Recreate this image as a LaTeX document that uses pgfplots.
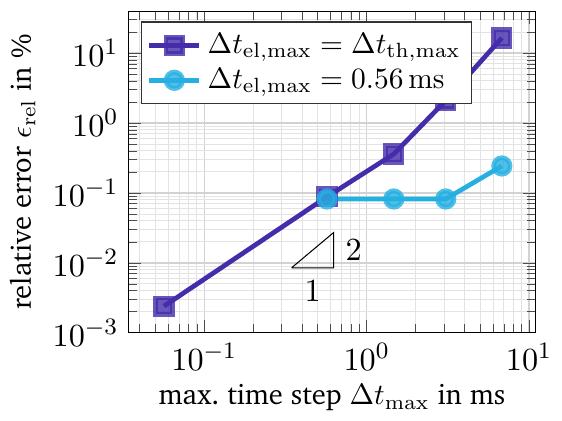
\documentclass[border=0pt]{standalone}
\usepackage[T1]{fontenc}
\usepackage{charter}
\usepackage{pgfplots}
\pgfplotsset{compat=1.18}
\definecolor{cpurple}{RGB}{68,44,170}
\definecolor{ccyan}{RGB}{38,176,226}
\begin{document}
\begin{tikzpicture}
\begin{loglogaxis}[
  name=ax,
  scale only axis,
  width=138pt, height=109pt,
  xmin=0.0343, xmax=10.9,
  ymin=1e-3, ymax=39,
  grid=both,
  major grid style={gray!35, line width=0.45pt},
  minor grid style={gray!22, line width=0.3pt},
  tick style={black!70},
  tick label style={font=\fontsize{10.8}{12}\selectfont},
  xlabel={max.\ time step $\Delta t_{\mathrm{max}}$ in ms},
  ylabel={relative error $\epsilon_{\mathrm{rel}}$ in \%},
  label style={font=\fontsize{9.7}{11.5}\selectfont},
  xlabel style={yshift=2pt},
  ylabel style={yshift=-1pt},
  legend pos=north west,
  legend style={font=\fontsize{9.6}{11.5}\selectfont, draw=black!80, line width=0.4pt, row sep=-0.5pt, inner sep=1.8pt},
  legend cell align=left,
]
\addplot[cpurple, line width=1.6pt, mark=square*, mark size=2.8pt,
  mark options={fill=cpurple, fill opacity=0.8, draw opacity=0.8}]
  coordinates {(0.0565,0.0024) (0.57,0.088) (1.47,0.36) (3.07,2.1) (6.8,16.5)};
\addlegendentry{$\Delta t_{\mathrm{el,max}} = \Delta t_{\mathrm{th,max}}$}
\addplot[ccyan, line width=1.6pt, mark=*, mark size=2.8pt,
  mark options={fill=ccyan, fill opacity=0.8, draw opacity=0.8}]
  coordinates {(0.57,0.082) (1.47,0.082) (3.07,0.082) (6.8,0.243)};
\addlegendentry{$\Delta t_{\mathrm{el,max}} = 0.56\,\mathrm{ms}$}
\addplot[black, line width=0.35pt, forget plot]
  coordinates {(0.345,0.0085) (0.627,0.0085) (0.627,0.0272) (0.345,0.0085)};
\node[anchor=west, font=\fontsize{10.5}{12}\selectfont] at (axis cs:0.64,0.0152) {$2$};
\node[anchor=north, font=\fontsize{10.5}{12}\selectfont] at (axis cs:0.465,0.0078) {$1$};
\end{loglogaxis}
\path (ax.north) ++(0,4pt);
\end{tikzpicture}
\end{document}
